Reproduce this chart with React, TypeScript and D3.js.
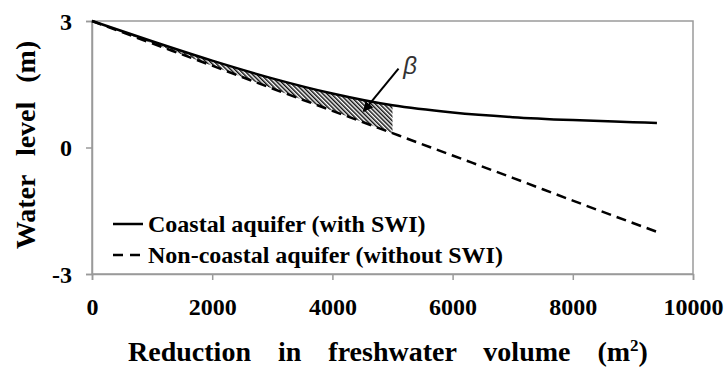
import * as d3 from "d3";
import { useRef, useEffect } from "react";

// data
const volume = [0, 1000, 2000, 3000, 4000, 5000, 6000, 7000, 8000, 9000, 9400];
const coastal = [3, 2.52, 2.06, 1.64, 1.28, 1.0, 0.83, 0.72, 0.65, 0.6, 0.58];
const nonCoastal = [3, 2.47, 1.94, 1.4, 0.87, 0.34, -0.19, -0.72, -1.26, -1.79, -2.0];
const xTicks = [0, 2000, 4000, 6000, 8000, 10000];
const yTicks = [-3, 0, 3];
const betaUntil = 5000;
const legendLabels = ["Coastal aquifer (with SWI)", "Non-coastal aquifer (without SWI)"];

export default function App() {
  const svgRef = useRef<SVGSVGElement>(null);

  useEffect(() => {
    const svg = d3.select(svgRef.current);
    svg.selectAll("*").remove();

    const W = 724, H = 372;
    const margin = { top: 21, right: 31, bottom: 98, left: 92 };
    const width = W - margin.left - margin.right;
    const height = H - margin.top - margin.bottom;
    const font = "Liberation Serif";

    const x = d3.scaleLinear().domain([0, 10000]).range([0, width]);
    const y = d3.scaleLinear().domain([-3, 3]).range([height, 0]);

    // hatch pattern for beta area
    const defs = svg.append("defs");
    const pat = defs.append("pattern").attr("id", "hatch").attr("patternUnits", "userSpaceOnUse")
      .attr("width", 3).attr("height", 3).attr("patternTransform", "rotate(-45)");
    pat.append("rect").attr("width", 3).attr("height", 3).attr("fill", "#fff");
    pat.append("line").attr("x1", 0.75).attr("y1", 0).attr("x2", 0.75).attr("y2", 3)
      .attr("stroke", "#111").attr("stroke-width", 1.5);
    const arrow = defs.append("marker").attr("id", "arr").attr("viewBox", "0 0 10 10")
      .attr("refX", 9).attr("refY", 5).attr("markerWidth", 5).attr("markerHeight", 5)
      .attr("orient", "auto").attr("markerUnits", "strokeWidth");
    arrow.append("path").attr("d", "M0,0L10,5L0,10z").attr("fill", "#000");

    const g = svg.append("g").attr("transform", `translate(${margin.left},${margin.top})`);

    // plot frame
    g.append("rect").attr("width", width).attr("height", height)
      .attr("fill", "none").attr("stroke", "#9a9a9a").attr("stroke-width", 1.5);

    // ticks
    g.append("g").attr("transform", `translate(0,${height})`)
      .call(d3.axisBottom(x).tickValues(xTicks).tickSize(6).tickFormat(d => String(d)))
      .call(a => a.attr("font-family", null).attr("font-size", null))
      .call(a => a.select(".domain").attr("stroke", "#9a9a9a").attr("stroke-width", 1.5))
      .call(a => a.selectAll(".tick line").attr("stroke", "#9a9a9a").attr("stroke-width", 1.5))
      .call(a => a.selectAll(".tick text").attr("dy", 0).attr("y", 41).attr("fill", "#000")
        .style("font-family", font).style("font-size", "24px").style("font-weight", "bold"));

    g.append("g")
      .call(d3.axisLeft(y).tickValues(yTicks).tickSize(6).tickFormat(d => String(d)))
      .call(a => a.attr("font-family", null).attr("font-size", null))
      .call(a => a.select(".domain").attr("stroke", "#9a9a9a").attr("stroke-width", 1.5))
      .call(a => a.selectAll(".tick line").attr("stroke", "#9a9a9a").attr("stroke-width", 1.5))
      .call(a => a.selectAll(".tick text").attr("x", -20).attr("dy", "0.34em").attr("fill", "#000")
        .style("font-family", font).style("font-size", "24px").style("font-weight", "bold"));

    const idx = volume.map((_, i) => i);
    const hatchIdx = idx.filter(i => volume[i] <= betaUntil);

    // beta area
    const area = d3.area<number>().x(i => x(volume[i])).y0(i => y(nonCoastal[i])).y1(i => y(coastal[i]))
      .curve(d3.curveMonotoneX);
    g.append("path").datum(hatchIdx).attr("d", area).attr("fill", "url(#hatch)");

    const line = (vals: number[]) => d3.line<number>().x(i => x(volume[i])).y(i => y(vals[i])).curve(d3.curveMonotoneX);
    g.append("path").datum(idx).attr("d", line(nonCoastal)).attr("fill", "none")
      .attr("stroke", "#000").attr("stroke-width", 2.5).attr("stroke-dasharray", "10,6");
    g.append("path").datum(idx).attr("d", line(coastal)).attr("fill", "none")
      .attr("stroke", "#000").attr("stroke-width", 2.5);

    // beta annotation
    g.append("line").attr("x1", x(5100)).attr("y1", y(1.87)).attr("x2", x(4520)).attr("y2", y(0.86))
      .attr("stroke", "#000").attr("stroke-width", 2).attr("marker-end", "url(#arr)");
    g.append("text").attr("x", x(5180)).attr("y", y(1.75)).attr("fill", "#333")
      .style("font-family", "Liberation Sans").style("font-style", "italic")
      .style("font-size", "24px").text("β");

    // legend
    legendLabels.forEach((lab, i) => {
      const ly = 203 + i * 31;
      g.append("line").attr("x1", 21).attr("x2", 51).attr("y1", ly).attr("y2", ly)
        .attr("stroke", "#000").attr("stroke-width", 2.5).attr("stroke-dasharray", i ? "10,7" : null);
      g.append("text").attr("x", 56).attr("y", ly + 8)
        .style("font-family", font).style("font-size", "24px").style("font-weight", "bold").text(lab);
    });

    // axis titles
    const xt = svg.append("text").attr("x", 388).attr("y", 361).attr("text-anchor", "middle")
      .style("font-family", font).style("font-size", "28px").style("font-weight", "bold")
      .style("word-spacing", "20px");
    xt.append("tspan").text("Reduction in freshwater volume (m");
    xt.append("tspan").attr("dy", -10).style("font-size", "17px").text("2");
    xt.append("tspan").attr("dy", 10).text(")");

    svg.append("text").attr("transform", "translate(35,145) rotate(-90)").attr("text-anchor", "middle")
      .style("font-family", font).style("font-size", "28px").style("font-weight", "bold")
      .style("word-spacing", "12px").text("Water level (m)");
  }, []);

  return <svg ref={svgRef} width={724} height={372} style={{ position: "absolute", left: 0, top: 0, background: "#fff" }} />;
}
